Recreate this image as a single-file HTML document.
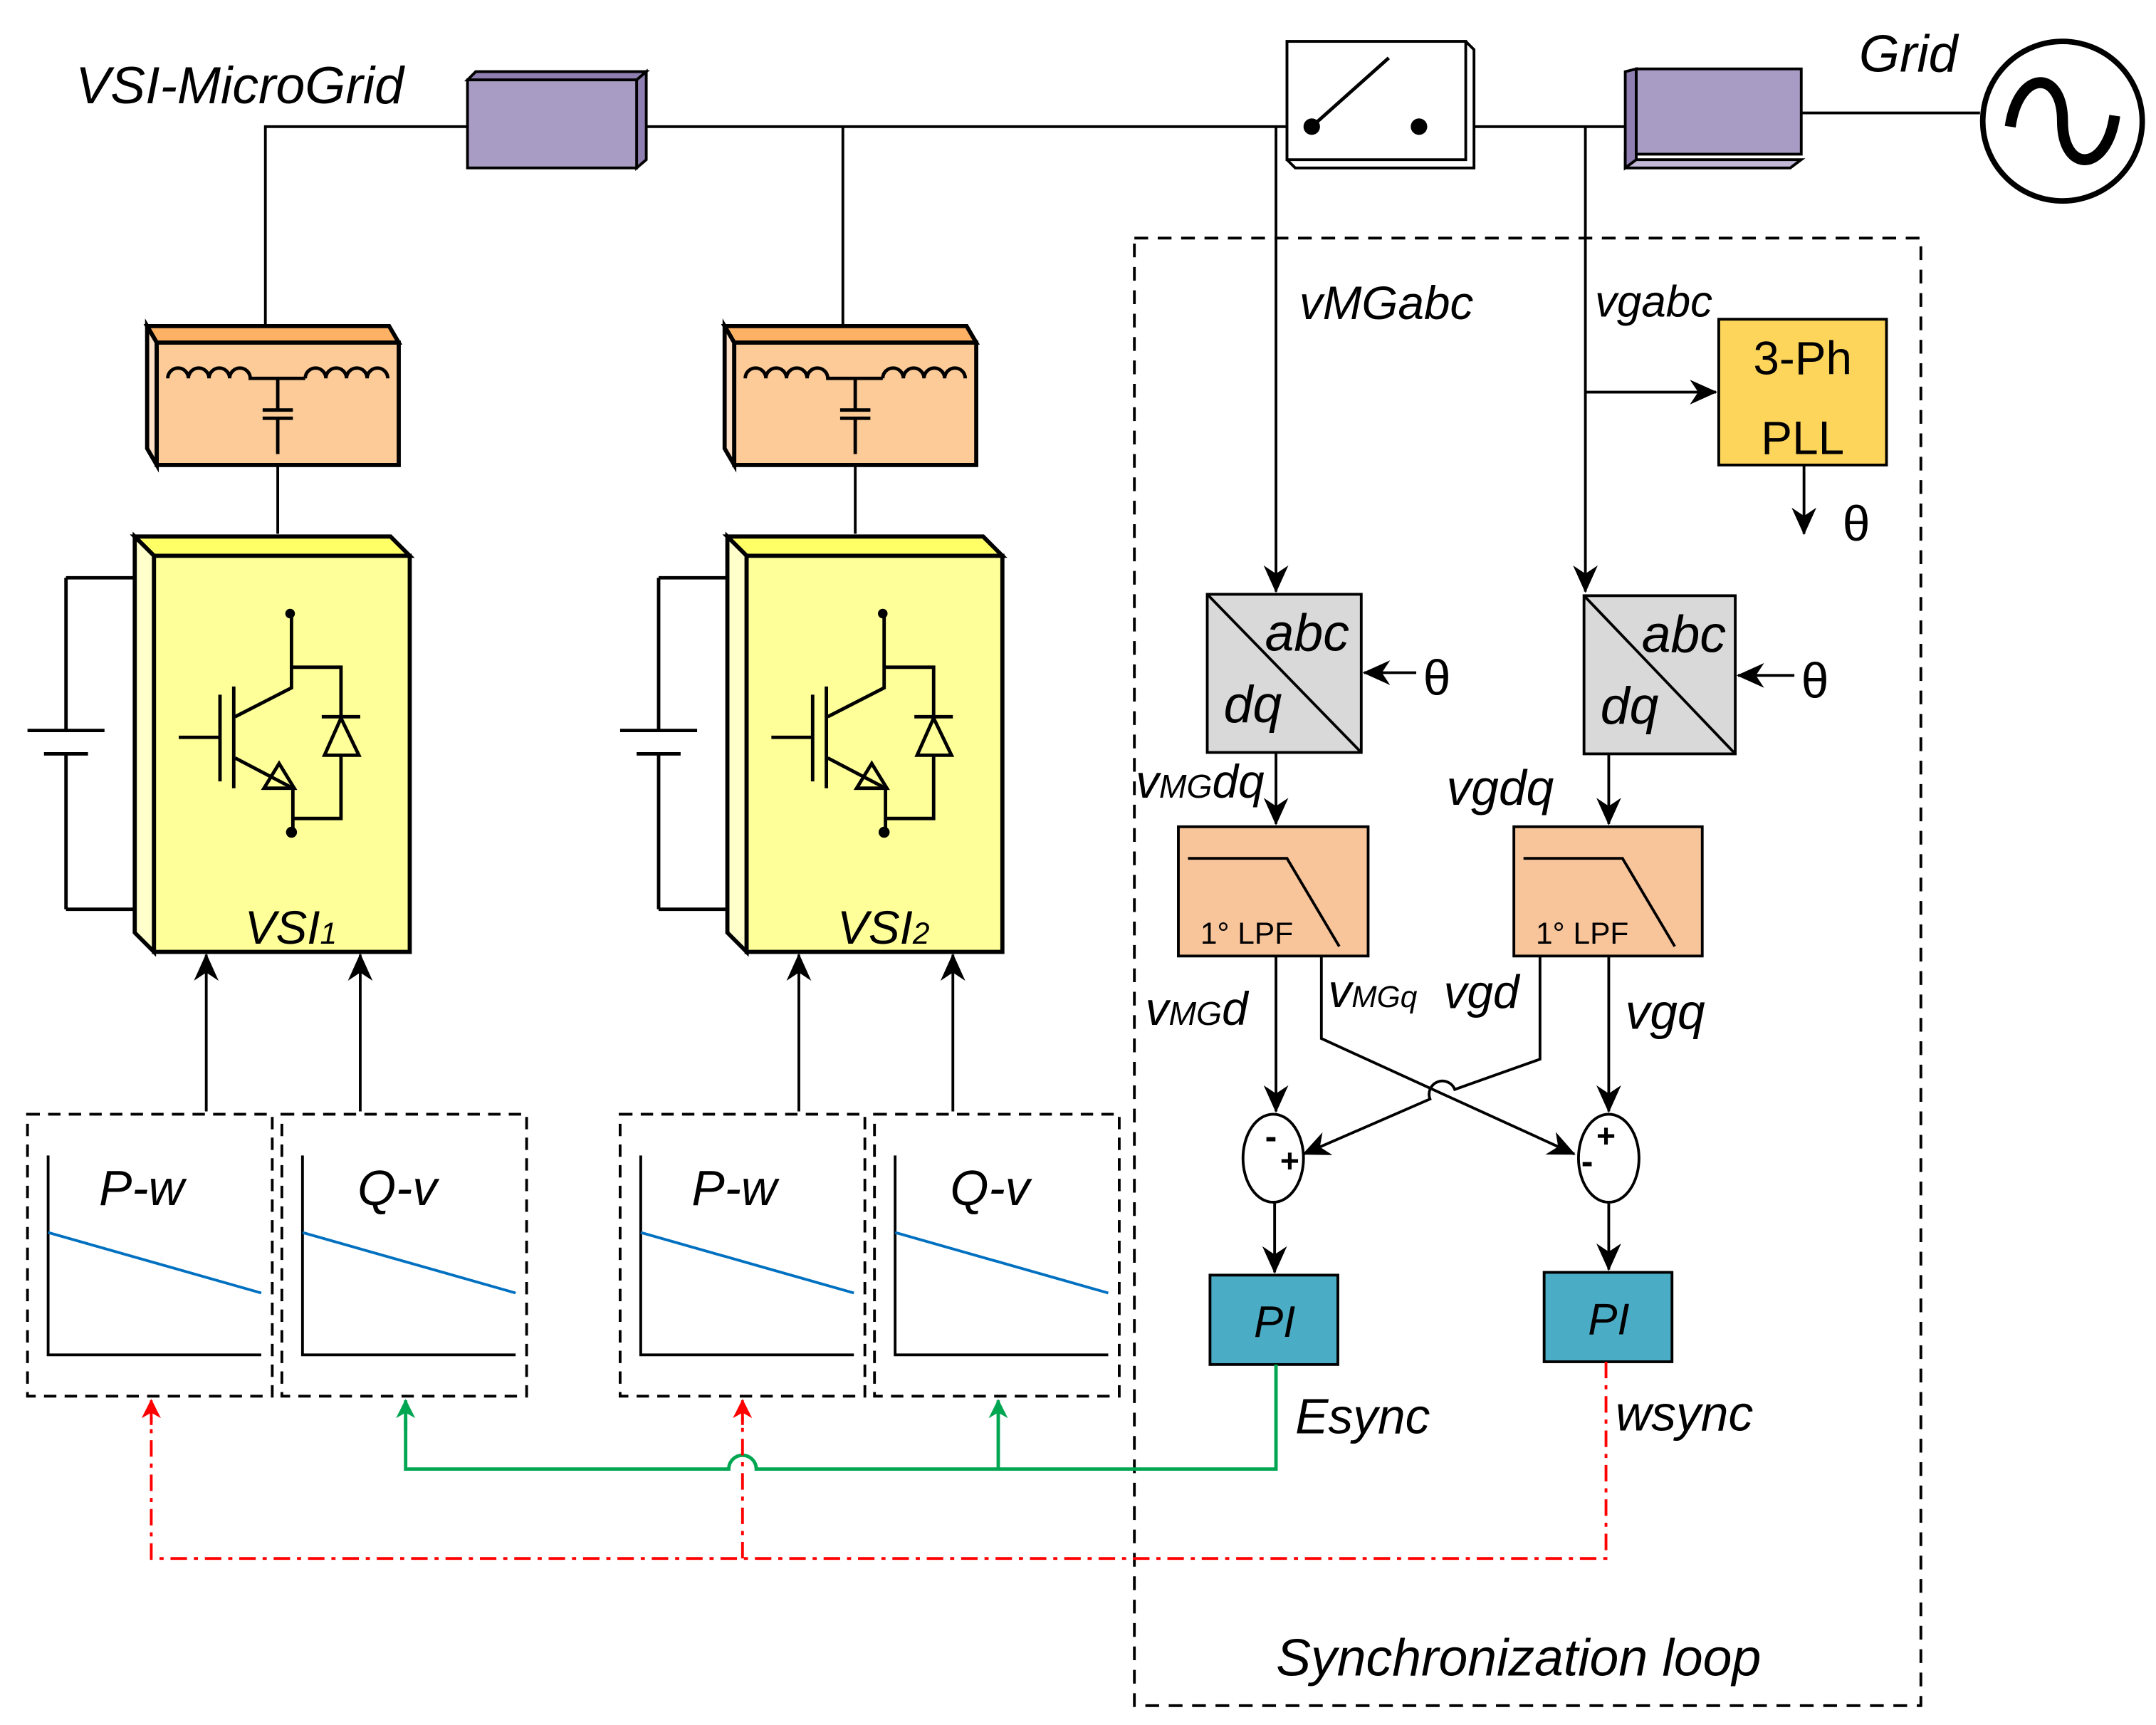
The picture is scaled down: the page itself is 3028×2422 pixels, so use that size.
<!DOCTYPE html>
<html><head><meta charset="utf-8"><style>
html,body{margin:0;padding:0;background:#fff}
svg{display:block}
text{font-family:"Liberation Sans",sans-serif;fill:#000}
.it{font-style:italic}
</style></head><body>
<svg width="3028" height="2422" viewBox="0 0 1568 1254" xmlns="http://www.w3.org/2000/svg">
<defs>
<marker id="arg" markerWidth="14" markerHeight="14" refX="13" refY="7" orient="auto" markerUnits="userSpaceOnUse" viewBox="0 0 14 14"><path d="M0,0 L14,7 L0,14 L4,7 z" fill="#00a651"/></marker>
<marker id="arr" markerWidth="14" markerHeight="14" refX="13" refY="7" orient="auto" markerUnits="userSpaceOnUse" viewBox="0 0 14 14"><path d="M0,0 L14,7 L0,14 L4,7 z" fill="#ff0000"/></marker>
<marker id="ab" markerWidth="20" markerHeight="18" refX="19" refY="9" orient="auto" markerUnits="userSpaceOnUse" viewBox="0 0 20 18"><path d="M0,0 L20,9 L0,18 L6,9 z" fill="#000"/></marker>
<g id="filt">
<path d="M107,237 L283,237 L290,249 L114,249 Z" fill="#fdb164" stroke="#000" stroke-width="3"/>
<path d="M107,237 L114,249 L114,338 L107,326 Z" fill="#fde0c5" stroke="#000" stroke-width="3"/>
<rect x="114" y="249" width="176" height="89" fill="#fccb98" stroke="#000" stroke-width="3"/>
<path d="M122,275 a7.5,7.5 0 0 1 15,0 a7.5,7.5 0 0 1 15,0 a7.5,7.5 0 0 1 15,0 a7.5,7.5 0 0 1 15,0 L182,275 L222,275 M222,275 a7.5,7.5 0 0 1 15,0 a7.5,7.5 0 0 1 15,0 a7.5,7.5 0 0 1 15,0 a7.5,7.5 0 0 1 15,0" fill="none" stroke="#000" stroke-width="2.5"/>
<path d="M202,275 V298 M191,298 H213 M191,304 H213 M202,304 V330" fill="none" stroke="#000" stroke-width="2.5"/>
</g>
<g id="vsi">
<path d="M98,390 L284,390 L298,404 L112,404 Z" fill="#ffff66" stroke="#000" stroke-width="3"/>
<path d="M98,390 L112,404 L112,692 L98,678 Z" fill="#ffffcc" stroke="#000" stroke-width="3"/>
<rect x="112" y="404" width="186" height="288" fill="#ffff99" stroke="#000" stroke-width="3"/>
<g fill="none" stroke="#000" stroke-width="2.5">
<path d="M212,446 V500 L171,521"/>
<path d="M212,485 H248 V522 M248,549 V595 H212"/>
<path d="M170,499 V573 M160,505 V568 M130,536 H160"/>
<path d="M171,551 L213,573 V605"/>
<path d="M192,573 L203,555 L214,573 Z"/>
<path d="M236,549 L261,549 L248,522 Z M234,521 H262"/>
<path d="M48,420 H98 M48,661 H98 M48,420 V531 M48,548 V661 M20,531 H76 M32,548 H64"/>
</g>
<circle cx="211" cy="446" r="3.5"/><circle cx="212" cy="605" r="4"/>
</g>
<g id="droop">
<rect x="20" y="810" width="178" height="205" fill="none" stroke="#000" stroke-width="2" stroke-dasharray="9,6"/>
<path d="M35,840 V985 H190" fill="none" stroke="#000" stroke-width="2"/>
<path d="M35,896 L190,940" stroke="#0070c0" stroke-width="2"/>
<rect x="205" y="810" width="178" height="205" fill="none" stroke="#000" stroke-width="2" stroke-dasharray="9,6"/>
<path d="M220,840 V985 H375" fill="none" stroke="#000" stroke-width="2"/>
<path d="M220,896 L375,940" stroke="#0070c0" stroke-width="2"/>
<path d="M150,808 V694" stroke="#000" stroke-width="2" marker-end="url(#ab)"/>
<path d="M262,808 V694" stroke="#000" stroke-width="2" marker-end="url(#ab)"/>
</g>
</defs>

<!-- bus -->
<g fill="none" stroke="#000" stroke-width="2">
<path d="M193,237 V92 H340 M465,92 H1182 M613,92 V237"/>
<path d="M1310,82 H1440"/>
<path d="M202,338 V388 M622,338 V388"/>
</g>
<text x="55" y="75" class="it" font-size="38">VSI-MicroGrid</text>
<text x="1352" y="52" class="it" font-size="38">Grid</text>

<!-- purple box 1 -->
<path d="M340,58 L346,52 L470,52 L463,58 Z" fill="#8f7fb0" stroke="#000" stroke-width="2"/>
<path d="M463,58 L470,52 L470,116 L463,122 Z" fill="#8f7fb0" stroke="#000" stroke-width="2"/>
<rect x="340" y="58" width="123" height="64" fill="#a89cc4" stroke="#000" stroke-width="2"/>
<!-- purple box 2 -->
<path d="M1182,112 L1190,116 L1310,116 L1302,122 L1182,122 Z" fill="#c2b8d8" stroke="#000" stroke-width="2"/>
<path d="M1182,52 L1190,50 L1190,116 L1182,122 Z" fill="#8f7fb0" stroke="#000" stroke-width="2"/>
<rect x="1190" y="50" width="120" height="62" fill="#a89cc4" stroke="#000" stroke-width="2"/>
<!-- switch -->
<path d="M936,30 L1066,30 L1072,36 L1072,122 L942,122 L936,116 Z" fill="#fff" stroke="#000" stroke-width="2"/>
<rect x="936" y="30" width="130" height="86" fill="#fff" stroke="#000" stroke-width="2"/>
<path d="M954,92 L1010,42" stroke="#000" stroke-width="2.5"/>
<circle cx="954" cy="92" r="6"/><circle cx="1032" cy="92" r="6"/>
<!-- grid source -->
<circle cx="1500" cy="88" r="58" fill="#fff" stroke="#000" stroke-width="4"/>
<path d="M1462,92 C1468,50 1500,50 1500,88 C1500,126 1532,126 1538,84" fill="none" stroke="#000" stroke-width="8"/>

<use href="#filt"/>
<use href="#filt" transform="translate(420,0)"/>
<use href="#vsi"/>
<use href="#vsi" transform="translate(431,0)"/>
<text x="178" y="686" class="it" font-size="34">VSI<tspan font-size="22">1</tspan></text>
<text x="609" y="686" class="it" font-size="34">VSI<tspan font-size="22">2</tspan></text>
<use href="#droop"/>
<use href="#droop" transform="translate(431,0)"/>
<g class="it" font-size="36">
<text x="72" y="876">P-w</text><text x="260" y="876">Q-v</text>
<text x="503" y="876">P-w</text><text x="691" y="876">Q-v</text>
</g>

<!-- sync loop box -->
<rect x="825" y="173" width="572" height="1067" fill="none" stroke="#000" stroke-width="2" stroke-dasharray="10,7"/>
<text x="928" y="1218" class="it" font-size="38">Synchronization loop</text>

<g fill="none" stroke="#000" stroke-width="2">
<path d="M928,92 V430" marker-end="url(#ab)"/>
<path d="M1153,92 V430" marker-end="url(#ab)"/>
<path d="M1153,285 H1248" marker-end="url(#ab)"/>
<path d="M1312,338 V388" marker-end="url(#ab)"/>
<path d="M1030,489 H992" marker-end="url(#ab)"/>
<path d="M1305,491 H1264" marker-end="url(#ab)"/>
<path d="M928,547 V599" marker-end="url(#ab)"/>
<path d="M1170,548 V599" marker-end="url(#ab)"/>
<path d="M928,695 V808" marker-end="url(#ab)"/>
<path d="M1170,695 V808" marker-end="url(#ab)"/>
<path d="M961,695 V755 L1145,839" marker-end="url(#ab)"/>
<path d="M1120,695 V770 L1058,792 A9,9 0 0 0 1040,799 L948,839" marker-end="url(#ab)"/>
<path d="M927,874 V925" marker-end="url(#ab)"/>
<path d="M1170,874 V923" marker-end="url(#ab)"/>
</g>
<text x="945" y="232" class="it" font-size="34">vMGabc</text>
<text x="1160" y="230" class="it" font-size="32">vgabc</text>
<rect x="1250" y="232" width="122" height="106" fill="#fcd55a" stroke="#000" stroke-width="2"/>
<text x="1311" y="272" font-size="34" text-anchor="middle">3-Ph</text>
<text x="1311" y="330" font-size="34" text-anchor="middle">PLL</text>
<text x="1340" y="393" font-size="36">θ</text>
<text x="1035" y="505" font-size="36">θ</text>
<text x="1310" y="507" font-size="36">θ</text>
<!-- abc/dq -->
<rect x="878" y="432" width="112" height="115" fill="#d9d9d9" stroke="#000" stroke-width="2"/>
<path d="M878,432 L990,547" stroke="#000" stroke-width="2"/>
<text x="920" y="473" class="it" font-size="38">abc</text>
<text x="890" y="525" class="it" font-size="38">dq</text>
<rect x="1152" y="433" width="110" height="115" fill="#d9d9d9" stroke="#000" stroke-width="2"/>
<path d="M1152,433 L1262,548" stroke="#000" stroke-width="2"/>
<text x="1194" y="474" class="it" font-size="38">abc</text>
<text x="1164" y="526" class="it" font-size="38">dq</text>
<text x="826" y="580" class="it" font-size="34">v<tspan font-size="24">MG</tspan>dq</text>
<text x="1052" y="585" class="it" font-size="36">vgdq</text>
<!-- LPF -->
<rect x="857" y="601" width="138" height="94" fill="#f8c59b" stroke="#000" stroke-width="2"/>
<path d="M864,624 H936 L974,688" fill="none" stroke="#000" stroke-width="2"/>
<text x="873" y="686" font-size="22">1° LPF</text>
<rect x="1101" y="601" width="137" height="94" fill="#f8c59b" stroke="#000" stroke-width="2"/>
<path d="M1108,624 H1180 L1218,688" fill="none" stroke="#000" stroke-width="2"/>
<text x="1117" y="686" font-size="22">1° LPF</text>
<text x="833" y="745" class="it" font-size="34">v<tspan font-size="24">MG</tspan>d</text>
<text x="966" y="732" class="it" font-size="34">v<tspan font-size="22">MGq</tspan></text>
<text x="1050" y="733" class="it" font-size="34">vgd</text>
<text x="1182" y="748" class="it" font-size="36">vgq</text>
<!-- sums -->
<ellipse cx="926" cy="842" rx="22" ry="32" fill="#fff" stroke="#000" stroke-width="2"/>
<text x="920" y="835" font-size="26" font-weight="bold">-</text><text x="931" y="852" font-size="24" font-weight="bold">+</text>
<ellipse cx="1170" cy="842" rx="22" ry="32" fill="#fff" stroke="#000" stroke-width="2"/>
<text x="1161" y="834" font-size="24" font-weight="bold">+</text><text x="1150" y="853" font-size="26" font-weight="bold">-</text>
<!-- PI -->
<rect x="880" y="927" width="93" height="65" fill="#4bacc6" stroke="#000" stroke-width="2"/>
<text x="927" y="972" class="it" font-size="32" text-anchor="middle">PI</text>
<rect x="1123" y="925" width="93" height="65" fill="#4bacc6" stroke="#000" stroke-width="2"/>
<text x="1170" y="970" class="it" font-size="32" text-anchor="middle">PI</text>
<text x="942" y="1042" class="it" font-size="36">Esync</text>
<text x="1175" y="1040" class="it" font-size="36">wsync</text>

<!-- green -->
<g fill="none" stroke="#00a651" stroke-width="2.5">
<path d="M928,992 V1068 H550 A10,10 0 0 0 530,1068 H295 V1032"/>
<path d="M295,1040 V1018" marker-end="url(#arg)"/>
<path d="M726,1068 V1018" marker-end="url(#arg)"/>
</g>
<!-- red -->
<g fill="none" stroke="#ff0000" stroke-width="2" stroke-dasharray="12,5,3,5">
<path d="M1168,990 V1133 H110 V1030"/>
<path d="M540,1133 V1030"/>
</g>
<path d="M110,1036 V1018" stroke="#ff0000" stroke-width="2" marker-end="url(#arr)"/>
<path d="M540,1036 V1018" stroke="#ff0000" stroke-width="2" marker-end="url(#arr)"/>
</svg>
</body></html>
